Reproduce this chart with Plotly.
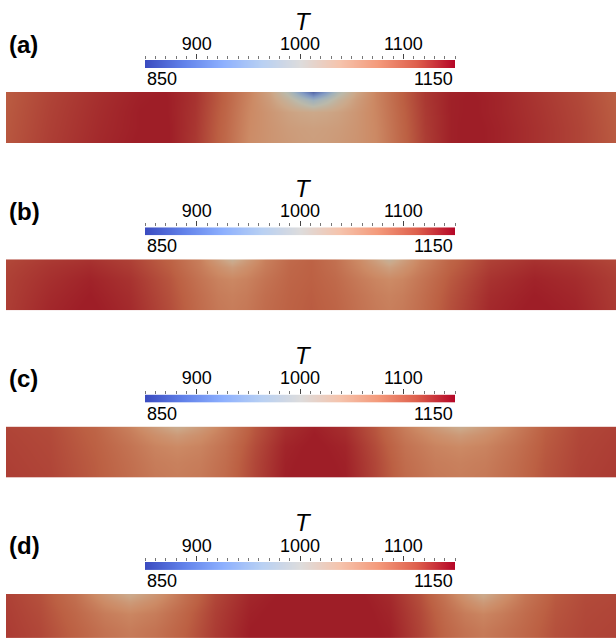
import plotly.graph_objects as go

W, H = 616, 638

# ---------------- colour map (ParaView "Cool to Warm") ----------------
CB_STOPS = [0.0, 0.125, 0.25, 0.375, 0.5, 0.625, 0.75, 0.875, 1.0]
CB_RGB = [(59, 76, 192), (98, 130, 234), (141, 176, 254), (184, 208, 243),
          (221, 220, 220), (245, 196, 173), (244, 154, 123), (222, 96, 77),
          (180, 4, 38)]
T_MIN, T_MAX = 850, 1150
CB_MAJOR = [900, 1000, 1100]
CB_END_LABELS = [850, 1150]
CB_TITLE = "T"
PANEL_LABELS = ["(a)", "(b)", "(c)", "(d)"]

# ---------------- temperature fields ----------------
ROW_Y = [1.0, 0.85, 0.6, 0.3, 0.0]   # top -> bottom of each strip

A_X = [6, 50, 100, 140, 165, 195, 225, 250, 270, 288, 300, 313, 326, 338, 356, 376, 400, 425, 450, 471, 500, 540, 580, 616]
A_T = [
    [1115, 1128, 1140, 1148, 1150, 1138, 1110, 1080, 1045, 990, 930, 870, 925, 985, 1040, 1080, 1110, 1135, 1147, 1150, 1145, 1135, 1125, 1112],
    [1115, 1129, 1141, 1149, 1151, 1138, 1110, 1078, 1052, 1018, 990, 960, 988, 1018, 1052, 1080, 1110, 1135, 1148, 1151, 1146, 1136, 1126, 1113],
    [1116, 1130, 1142, 1150, 1151, 1137, 1108, 1076, 1060, 1046, 1040, 1037, 1040, 1046, 1060, 1079, 1108, 1134, 1148, 1151, 1146, 1137, 1127, 1114],
    [1117, 1131, 1143, 1150, 1152, 1136, 1106, 1074, 1062, 1053, 1050, 1048, 1050, 1053, 1062, 1077, 1106, 1133, 1148, 1152, 1147, 1138, 1128, 1115],
    [1118, 1132, 1144, 1151, 1152, 1135, 1105, 1072, 1062, 1056, 1052, 1050, 1052, 1056, 1063, 1076, 1105, 1132, 1148, 1152, 1147, 1138, 1128, 1116],
]

B_X = [6, 50, 90, 130, 170, 200, 218, 232, 246, 265, 290, 311, 335, 360, 376, 389, 402, 420, 450, 490, 534, 575, 616]
B_T = [
    [1126, 1134, 1138, 1130, 1110, 1084, 1052, 1024, 1052, 1084, 1104, 1110, 1098, 1072, 1046, 1020, 1046, 1078, 1108, 1130, 1138, 1134, 1126],
    [1128, 1137, 1142, 1133, 1113, 1088, 1068, 1054, 1068, 1088, 1106, 1111, 1100, 1078, 1062, 1048, 1062, 1084, 1111, 1133, 1142, 1138, 1129],
    [1130, 1140, 1147, 1138, 1118, 1095, 1082, 1077, 1082, 1095, 1108, 1112, 1104, 1088, 1079, 1074, 1079, 1093, 1116, 1138, 1147, 1142, 1132],
    [1131, 1143, 1150, 1141, 1121, 1100, 1088, 1084, 1088, 1100, 1110, 1114, 1107, 1094, 1086, 1082, 1086, 1098, 1120, 1142, 1150, 1145, 1133],
    [1132, 1145, 1152, 1143, 1123, 1102, 1091, 1087, 1091, 1102, 1111, 1115, 1109, 1096, 1089, 1085, 1089, 1100, 1122, 1144, 1152, 1147, 1134],
]

C_X = [6, 50, 95, 130, 155, 177, 200, 225, 255, 285, 314, 345, 375, 405, 435, 460, 485, 515, 545, 580, 616]
C_T = [
    [1128, 1124, 1108, 1082, 1054, 1030, 1054, 1085, 1118, 1140, 1148, 1140, 1118, 1085, 1054, 1030, 1054, 1085, 1112, 1126, 1130],
    [1129, 1125, 1110, 1088, 1068, 1054, 1068, 1090, 1120, 1142, 1150, 1142, 1120, 1090, 1068, 1054, 1068, 1090, 1114, 1127, 1131],
    [1130, 1126, 1112, 1095, 1081, 1075, 1081, 1097, 1124, 1146, 1152, 1146, 1124, 1097, 1081, 1075, 1081, 1097, 1116, 1128, 1132],
    [1131, 1127, 1114, 1099, 1087, 1083, 1087, 1101, 1127, 1148, 1153, 1148, 1127, 1101, 1087, 1083, 1087, 1101, 1118, 1129, 1133],
    [1132, 1128, 1115, 1101, 1090, 1086, 1090, 1103, 1128, 1149, 1154, 1149, 1128, 1103, 1090, 1086, 1090, 1103, 1119, 1130, 1134],
]

D_X = [6, 40, 75, 105, 130, 155, 185, 215, 250, 290, 320, 355, 390, 420, 445, 465, 483, 501, 525, 555, 585, 616]
D_T = [
    [1130, 1121, 1098, 1060, 1032, 1060, 1098, 1126, 1144, 1152, 1153, 1152, 1142, 1121, 1092, 1060, 1032, 1060, 1092, 1115, 1124, 1126],
    [1131, 1122, 1101, 1072, 1054, 1072, 1101, 1128, 1146, 1153, 1154, 1153, 1144, 1123, 1097, 1072, 1054, 1072, 1096, 1117, 1125, 1127],
    [1132, 1124, 1106, 1087, 1078, 1087, 1108, 1131, 1148, 1154, 1154, 1154, 1146, 1126, 1103, 1087, 1079, 1087, 1102, 1119, 1126, 1128],
    [1133, 1126, 1110, 1095, 1087, 1095, 1112, 1133, 1150, 1154, 1155, 1154, 1148, 1128, 1107, 1095, 1088, 1095, 1106, 1121, 1127, 1129],
    [1134, 1127, 1112, 1098, 1091, 1098, 1114, 1134, 1151, 1154, 1155, 1154, 1149, 1129, 1109, 1098, 1092, 1098, 1108, 1122, 1128, 1130],
]

PANELS = [(A_X, A_T), (B_X, B_T), (C_X, C_T), (D_X, D_T)]

# ---------------- styling / geometry (pixels) ----------------
PANEL_DY = 167.3
STRIP_LEFT, STRIP_RIGHT = 6, 616
STRIP_TOP, STRIP_BOT = 92, 143
CB_LEFT, CB_RIGHT = 145, 455
CB_TOP, CB_BOT = 60, 68
TITLE_Y, LABEL_Y, END_Y = 21, 44, 79
FONT = "Liberation Sans, Arial, Helvetica, sans-serif"
SHADE_A = 0.72
SHADE_B = (28, 27, 12)


def p2y(py):
    return 1 - py / H


def p2x(px):
    return px / W


def shade(rgb):
    return tuple(max(0, min(255, round(c * SHADE_A + b))) for c, b in zip(rgb, SHADE_B))


cb_scale = [[s, "rgb(%d,%d,%d)" % c] for s, c in zip(CB_STOPS, CB_RGB)]
strip_scale = [[s, "rgb(%d,%d,%d)" % shade(c)] for s, c in zip(CB_STOPS, CB_RGB)]

fig = go.Figure()
layout = {}
annotations = []

for i, (xs, zs) in enumerate(PANELS):
    dy = i * PANEL_DY
    ks, kc = 2 * i + 1, 2 * i + 2
    xs_name = "x" if ks == 1 else f"x{ks}"
    ys_name = "y" if ks == 1 else f"y{ks}"
    xc_name, yc_name = f"x{kc}", f"y{kc}"
    xs_key = "xaxis" if ks == 1 else f"xaxis{ks}"
    ys_key = "yaxis" if ks == 1 else f"yaxis{ks}"

    # strip
    top_px = STRIP_TOP + dy
    bot_full = STRIP_BOT + dy
    bot_px = min(bot_full, H)
    y_low = (bot_full - bot_px) / (STRIP_BOT - STRIP_TOP)
    fig.add_trace(go.Heatmap(
        x=xs, y=ROW_Y, z=zs, zsmooth="best", colorscale=strip_scale,
        zmin=T_MIN, zmax=T_MAX, showscale=False, hoverinfo="skip",
        xaxis=xs_name, yaxis=ys_name))
    layout[xs_key] = dict(domain=[p2x(STRIP_LEFT), p2x(STRIP_RIGHT)],
                          range=[xs[0], xs[-1]], visible=False, anchor=ys_name)
    layout[ys_key] = dict(domain=[max(0, p2y(bot_px)), p2y(top_px)],
                          range=[y_low, 1], visible=False, anchor=xs_name)

    # colour bar
    fig.add_trace(go.Heatmap(
        x=[T_MIN, T_MAX], y=[0, 1], z=[[T_MIN, T_MAX], [T_MIN, T_MAX]],
        zsmooth="best", colorscale=cb_scale, zmin=T_MIN, zmax=T_MAX,
        showscale=False, hoverinfo="skip", xaxis=xc_name, yaxis=yc_name))
    layout[f"xaxis{kc}"] = dict(
        domain=[p2x(CB_LEFT), p2x(CB_RIGHT)], range=[T_MIN, T_MAX],
        anchor=yc_name, side="top", tickmode="array", tickvals=CB_MAJOR,
        ticks="outside", ticklen=5, tickwidth=1, tickcolor="#444",
        ticklabelstandoff=-3,
        minor=dict(tick0=T_MIN, dtick=10, ticks="outside", ticklen=3,
                   tickwidth=1, tickcolor="#777", showgrid=False),
        showgrid=False, zeroline=False, showline=False,
        tickfont=dict(family=FONT, size=18, color="black"))
    layout[f"yaxis{kc}"] = dict(domain=[p2y(CB_BOT + dy), p2y(CB_TOP + dy)],
                                range=[0, 1], visible=False, anchor=xc_name)

    # texts
    annotations.append(dict(text="<i>%s</i>" % CB_TITLE, xref="paper", yref="paper",
                            x=p2x(303), y=p2y(TITLE_Y + dy), xanchor="center",
                            yanchor="middle", showarrow=False,
                            font=dict(family=FONT, size=24, color="black")))
    annotations.append(dict(text="<b>%s</b>" % PANEL_LABELS[i], xref="paper",
                            yref="paper", x=p2x(7), y=p2y(LABEL_Y + dy),
                            xanchor="left", yanchor="middle", showarrow=False,
                            font=dict(family=FONT, size=24, color="black")))
    for v, anc in zip(CB_END_LABELS, ["left", "right"]):
        annotations.append(dict(text=str(v), xref=xc_name, yref="paper", x=v,
                                y=p2y(END_Y + dy), xanchor=anc, yanchor="middle",
                                showarrow=False,
                                font=dict(family=FONT, size=18, color="black")))

fig.update_layout(width=W, height=H, margin=dict(l=0, r=0, t=0, b=0),
                  paper_bgcolor="white", plot_bgcolor="white",
                  showlegend=False, annotations=annotations, **layout)

fig.write_html("out.html")
